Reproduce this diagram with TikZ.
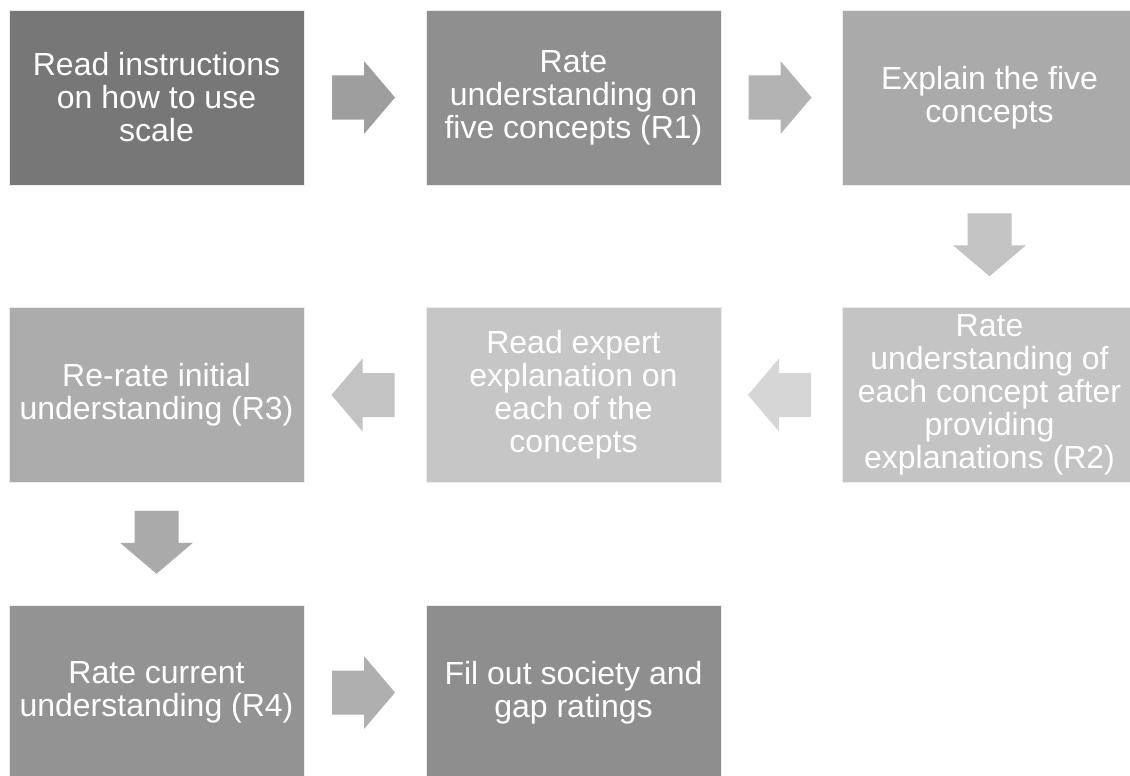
\documentclass[tikz,border=0pt]{standalone}
\usepackage{fontspec}
\setmainfont{Liberation Sans}
\usetikzlibrary{calc}
\definecolor{boxA}{HTML}{777777}
\definecolor{boxB}{HTML}{8F8F8F}
\definecolor{boxC}{HTML}{AAAAAA}
\definecolor{boxD}{HTML}{C4C4C4}
\definecolor{boxE}{HTML}{C6C6C6}
\definecolor{boxF}{HTML}{ACACAC}
\definecolor{boxG}{HTML}{939393}
\definecolor{boxH}{HTML}{8E8E8E}
\definecolor{arrA}{HTML}{9E9E9E}
\definecolor{arrB}{HTML}{B3B3B3}
\definecolor{arrC}{HTML}{C3C3C3}
\definecolor{arrD}{HTML}{D6D6D6}
\definecolor{arrE}{HTML}{C3C3C3}
\definecolor{arrF}{HTML}{AAAAAA}
\definecolor{arrG}{HTML}{AFAFAF}
\tikzset{
  stepbox/.style={rectangle, minimum width=295pt, minimum height=175pt, inner sep=0pt,
    draw=white!85!gray, line width=0.8pt, text=white, align=center,
    font=\fontsize{32}{33}\selectfont},
  blockarrow/.pic={\fill[pic actions] (-31.5,-22) -- (0.5,-22) -- (0.5,-36.5) -- (31.5,0) -- (0.5,36.5) -- (0.5,22) -- (-31.5,22) -- cycle;}
}
\begin{document}
\begin{tikzpicture}[x=1pt,y=-1pt]
\useasboundingbox (0,0) rectangle (1130,776);
\clip (0,0) rectangle (1130,776);
\fill[white] (0,0) rectangle (1130,776);
\node[stepbox, fill=boxA] (b1) at (156.5,97.5) {Read instructions\\on how to use\\scale};
\node[stepbox, fill=boxB] (b2) at (573.5,97.5) {Rate\\understanding on\\five concepts (R1)};
\node[stepbox, fill=boxC] (b3) at (989.5,97.5) {Explain the five\\concepts};
\node[stepbox, fill=boxD] (b4) at (989.5,395) {Rate\\understanding of\\each concept after\\providing\\explanations (R2)};
\node[stepbox, fill=boxE] (b5) at (573.5,395) {Read expert\\explanation on\\each of the\\concepts};
\node[stepbox, fill=boxF] (b6) at (156.5,395) {Re-rate initial\\understanding (R3)};
\node[stepbox, fill=boxG] (b7) at (156.5,692.5) {Rate current\\understanding (R4)};
\node[stepbox, fill=boxH] (b8) at (573.5,692.5) {Fil out society and\\gap ratings};
\pic[fill=arrA] at ($(b1.east)!0.5!(b2.west)+(-1.5,0)$) {blockarrow};
\pic[fill=arrB] at ($(b2.east)!0.5!(b3.west)+(-1.5,0)$) {blockarrow};
\pic[fill=arrC, rotate=-90] at ($(b3.south)!0.5!(b4.north)+(0,-1.5)$) {blockarrow};
\pic[fill=arrD, rotate=180] at ($(b4.west)!0.5!(b5.east)+(-2,0)$) {blockarrow};
\pic[fill=arrE, rotate=180] at ($(b5.west)!0.5!(b6.east)+(-2,0)$) {blockarrow};
\pic[fill=arrF, rotate=-90] at ($(b6.south)!0.5!(b7.north)+(0,-1.5)$) {blockarrow};
\pic[fill=arrG] at ($(b7.east)!0.5!(b8.west)+(-1.5,0)$) {blockarrow};
\end{tikzpicture}
\end{document}
